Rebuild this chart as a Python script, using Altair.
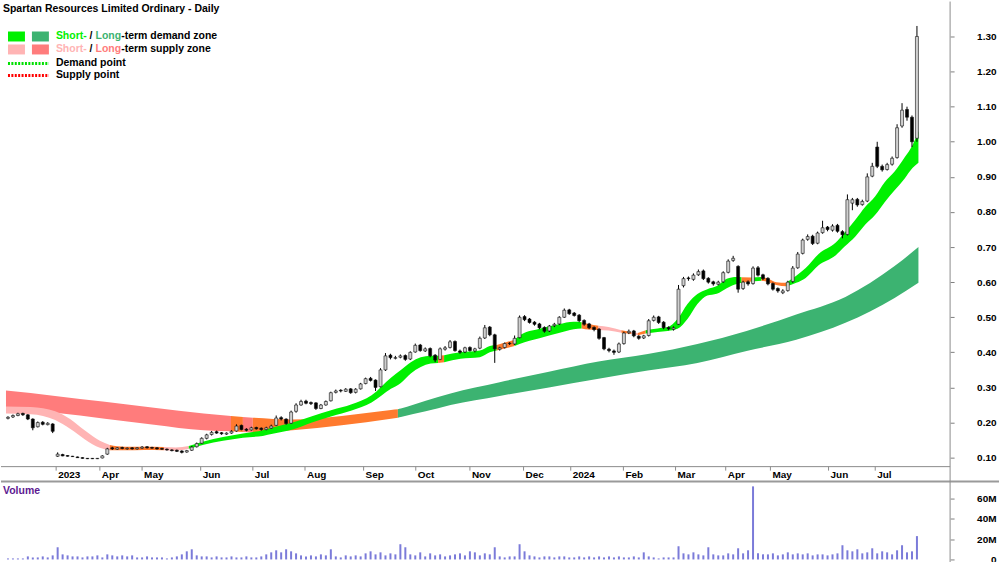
import altair as alt
import pandas as pd

FONT = "Liberation Sans, Arial, sans-serif"

# ---- candles: one candle per two trading days, index k ----
opens = [
    0.212,0.216,0.220,0.226,0.222,0.210,0.188,0.201,0.194,0.196,
    0.104,0.109,0.106,0.104,0.102,0.100,0.098,0.098,0.097,0.099,
    0.110,0.128,0.124,0.129,0.125,0.128,0.125,0.127,0.131,0.129,
    0.128,0.126,0.124,0.122,0.121,0.119,0.116,0.121,0.131,0.141,
    0.155,0.166,0.174,0.171,0.167,0.170,0.176,0.192,0.181,0.179,
    0.186,0.184,0.180,0.184,0.192,0.214,0.210,0.198,0.232,0.250,
    0.261,0.257,0.256,0.240,0.250,0.262,0.286,0.292,0.289,0.296,
    0.286,0.296,0.311,0.326,0.321,0.302,0.350,0.392,0.383,0.386,
    0.391,0.381,0.401,0.421,0.404,0.411,0.392,0.380,0.409,0.414,
    0.431,0.404,0.401,0.414,0.404,0.412,0.441,0.472,0.450,0.409,
    0.414,0.426,0.424,0.442,0.502,0.495,0.486,0.481,0.471,0.461,
    0.476,0.481,0.500,0.521,0.512,0.506,0.491,0.481,0.471,0.466,
    0.442,0.409,0.404,0.401,0.425,0.456,0.461,0.446,0.441,0.448,
    0.491,0.501,0.486,0.471,0.466,0.480,0.590,0.612,0.608,0.621,
    0.632,0.611,0.601,0.594,0.601,0.628,0.662,0.645,0.582,0.601,
    0.596,0.641,0.621,0.611,0.596,0.582,0.570,0.576,0.602,0.641,
    0.682,0.722,0.731,0.711,0.741,0.757,0.748,0.762,0.744,0.736,
    0.825,0.836,0.821,0.831,0.902,0.985,0.930,0.921,0.936,0.955,
    1.045,1.092,1.070,1.010]
highs = [
    0.218,0.223,0.228,0.228,0.224,0.212,0.203,0.204,0.201,0.198,
    0.115,0.111,0.107,0.105,0.103,0.101,0.099,0.099,0.099,0.107,
    0.128,0.131,0.130,0.131,0.129,0.130,0.130,0.133,0.133,0.131,
    0.130,0.128,0.126,0.124,0.123,0.121,0.122,0.133,0.143,0.158,
    0.168,0.176,0.177,0.173,0.172,0.178,0.195,0.194,0.184,0.188,
    0.188,0.186,0.188,0.194,0.220,0.218,0.212,0.234,0.255,0.265,
    0.265,0.260,0.258,0.253,0.263,0.288,0.294,0.295,0.298,0.298,
    0.298,0.313,0.328,0.330,0.323,0.355,0.398,0.396,0.390,0.394,
    0.394,0.403,0.425,0.424,0.414,0.414,0.395,0.414,0.418,0.435,
    0.434,0.408,0.416,0.417,0.413,0.445,0.478,0.475,0.453,0.416,
    0.428,0.429,0.448,0.505,0.506,0.498,0.489,0.484,0.474,0.478,
    0.484,0.503,0.525,0.524,0.515,0.509,0.494,0.484,0.474,0.469,
    0.444,0.413,0.408,0.428,0.459,0.465,0.464,0.449,0.450,0.495,
    0.505,0.504,0.489,0.474,0.474,0.592,0.615,0.616,0.625,0.636,
    0.636,0.614,0.604,0.604,0.631,0.665,0.675,0.648,0.604,0.605,
    0.645,0.646,0.624,0.614,0.599,0.585,0.580,0.604,0.646,0.686,
    0.724,0.736,0.735,0.744,0.775,0.760,0.765,0.766,0.748,0.850,
    0.840,0.840,0.835,0.910,0.940,1.000,0.935,0.940,0.958,1.050,
    1.110,1.100,1.075,1.330]
lows = [
    0.209,0.213,0.218,0.219,0.207,0.178,0.186,0.192,0.192,0.170,
    0.102,0.104,0.103,0.102,0.099,0.097,0.096,0.096,0.096,0.098,
    0.108,0.122,0.122,0.124,0.123,0.123,0.123,0.125,0.126,0.125,
    0.123,0.122,0.120,0.118,0.116,0.112,0.114,0.119,0.129,0.139,
    0.152,0.163,0.168,0.165,0.165,0.168,0.174,0.178,0.175,0.177,
    0.180,0.177,0.178,0.182,0.190,0.206,0.194,0.196,0.228,0.248,
    0.252,0.250,0.236,0.238,0.248,0.260,0.283,0.286,0.287,0.282,
    0.283,0.294,0.309,0.317,0.290,0.300,0.347,0.380,0.380,0.383,
    0.376,0.378,0.399,0.402,0.401,0.386,0.372,0.378,0.405,0.411,
    0.402,0.396,0.398,0.402,0.400,0.409,0.438,0.446,0.370,0.405,
    0.411,0.421,0.421,0.440,0.489,0.482,0.476,0.466,0.456,0.458,
    0.472,0.478,0.498,0.507,0.502,0.486,0.476,0.466,0.460,0.436,
    0.406,0.400,0.393,0.398,0.422,0.452,0.443,0.436,0.438,0.445,
    0.488,0.481,0.466,0.463,0.462,0.478,0.585,0.604,0.604,0.618,
    0.606,0.596,0.590,0.591,0.598,0.625,0.658,0.570,0.578,0.590,
    0.593,0.616,0.606,0.591,0.576,0.570,0.566,0.573,0.598,0.638,
    0.679,0.718,0.706,0.708,0.738,0.745,0.744,0.741,0.725,0.733,
    0.805,0.815,0.818,0.828,0.899,0.925,0.915,0.918,0.932,0.952,
    1.040,1.060,0.985,1.000]
closes = [
    0.215,0.220,0.225,0.222,0.210,0.185,0.200,0.195,0.198,0.175,
    0.110,0.105,0.104,0.103,0.100,0.098,0.097,0.097,0.098,0.105,
    0.125,0.125,0.128,0.126,0.127,0.125,0.128,0.130,0.128,0.127,
    0.125,0.124,0.122,0.120,0.118,0.115,0.120,0.130,0.140,0.155,
    0.165,0.172,0.170,0.168,0.170,0.175,0.190,0.180,0.178,0.185,
    0.182,0.180,0.185,0.190,0.213,0.210,0.197,0.230,0.250,0.260,
    0.255,0.254,0.240,0.250,0.260,0.285,0.290,0.290,0.295,0.285,
    0.295,0.310,0.325,0.320,0.300,0.350,0.390,0.385,0.385,0.390,
    0.380,0.400,0.420,0.405,0.410,0.390,0.378,0.410,0.413,0.430,
    0.405,0.400,0.413,0.405,0.410,0.440,0.470,0.450,0.410,0.413,
    0.425,0.425,0.440,0.500,0.493,0.485,0.480,0.470,0.460,0.475,
    0.480,0.500,0.520,0.510,0.505,0.490,0.480,0.470,0.465,0.440,
    0.410,0.405,0.400,0.424,0.455,0.460,0.447,0.440,0.447,0.490,
    0.500,0.485,0.470,0.467,0.470,0.580,0.610,0.610,0.620,0.630,
    0.610,0.600,0.595,0.600,0.627,0.660,0.668,0.580,0.600,0.595,
    0.640,0.620,0.610,0.595,0.580,0.575,0.575,0.600,0.640,0.680,
    0.720,0.730,0.710,0.740,0.755,0.750,0.760,0.745,0.735,0.835,
    0.835,0.820,0.830,0.900,0.930,0.930,0.920,0.935,0.953,1.040,
    1.090,1.070,1.000,1.300]
volumes_m = [
    1,1,1,1,3,2,2,3,2,4,
    12,5,4,3,3,2,3,3,4,2,
    5,4,3,4,3,4,2,2,3,2,
    2,2,1,2,3,5,8,10,4,3,
    3,2,3,2,2,3,2,2,3,2,
    2,3,5,7,9,7,10,8,6,4,
    3,4,3,5,4,10,3,2,4,3,
    4,3,6,8,5,7,4,6,5,15,
    12,5,4,7,3,6,4,5,3,4,
    5,6,4,8,7,4,6,5,12,3,
    2,3,3,15,8,4,3,2,3,3,
    2,3,3,2,2,3,2,3,2,3,
    2,3,2,3,2,2,3,2,7,3,
    2,1,2,2,2,13,6,5,7,5,
    4,12,5,4,4,6,5,11,6,9,
    72,6,5,5,6,4,5,7,5,6,
    5,6,4,5,5,4,5,6,14,9,
    8,10,6,7,11,6,8,7,5,9,
    14,7,8,23]

# ---- month ticks (in candle-index units) ----
month_pos = [9.7, 18.5, 27.0, 38.8, 49.3, 59.8, 71.6, 82.1, 93.0, 103.8,
             113.3, 123.9, 134.4, 144.5, 153.5, 165.2, 174.6]
month_lbl = ["2023", "Apr", "May", "Jun", "Jul", "Aug", "Sep", "Oct", "Nov", "Dec",
             "2024", "Feb", "Mar", "Apr", "May", "Jun", "Jul"]

# ---- short-term zone (S=supply pink, O=orange, G=demand green) ----
st_k = [-0.4, 4.6, 9.5, 12.5, 15.5, 18.5, 20.5, 23.5, 27.4, 31.4, 33.8, 36.4, 39.4,
        43.3, 47.3, 51.3, 53.3, 57.3, 61.2, 65.2, 69.2, 73.2, 77.1, 79.1, 81.1, 85.1,
        86.6, 87.8, 91.1, 95.0, 97.0, 98.4, 102.0, 103.0, 107.0, 110.9, 113.9, 115.5,
        116.9, 118.9, 120.9, 123.5, 125.5, 126.8, 128.4, 130.8, 132.8, 134.8, 136.8,
        138.8, 140.8, 142.7, 144.7, 146.7, 147.7, 149.7, 151.7, 153.1, 154.7, 156.7,
        158.7, 160.6, 163.2, 166.6, 168.5, 170.6, 172.6, 174.6, 176.5, 178.5, 180.5,
        182.1, 183.3]
st_lo = [0.226, 0.224, 0.207, 0.182, 0.152, 0.128, 0.121, 0.121, 0.122, 0.121, 0.120,
         0.125, 0.137, 0.148, 0.157, 0.162, 0.168, 0.180, 0.200, 0.218, 0.234, 0.257,
         0.296, 0.313, 0.340, 0.368, 0.370, 0.372, 0.382, 0.386, 0.400, 0.405, 0.418,
         0.424, 0.440, 0.455, 0.466, 0.468, 0.465, 0.464, 0.462, 0.456, 0.452, 0.449,
         0.454, 0.458, 0.461, 0.467, 0.495, 0.538, 0.562, 0.567, 0.583, 0.595, 0.598,
         0.602, 0.604, 0.600, 0.592, 0.588, 0.598, 0.612, 0.648, 0.676, 0.702, 0.730,
         0.764, 0.792, 0.828, 0.862, 0.895, 0.925, 0.940]
st_hi = [0.246, 0.244, 0.232, 0.210, 0.177, 0.148, 0.136, 0.131, 0.131, 0.130, 0.129,
         0.133, 0.146, 0.159, 0.169, 0.178, 0.186, 0.200, 0.218, 0.236, 0.252, 0.278,
         0.328, 0.350, 0.372, 0.390, 0.390, 0.392, 0.400, 0.405, 0.418, 0.421, 0.436,
         0.448, 0.467, 0.480, 0.487, 0.486, 0.481, 0.476, 0.472, 0.463, 0.458, 0.455,
         0.463, 0.468, 0.472, 0.495, 0.538, 0.566, 0.580, 0.589, 0.610, 0.615, 0.614,
         0.613, 0.615, 0.610, 0.600, 0.598, 0.618, 0.640, 0.680, 0.712, 0.742, 0.778,
         0.815, 0.845, 0.885, 0.915, 0.955, 0.990, 1.030]
st_state = ["S", "S", "S", "S", "S", "S", "O", "O", "O", "S", "S", "G", "G",
            "G", "G", "G", "G", "G", "G", "G", "G", "G", "G", "G", "G", "G",
            "O", "G", "G", "G", "G", "O", "G", "G", "G", "G", "G", "O",
            "O", "S", "S", "O", "S", "O", "G", "G", "G", "G", "G",
            "G", "G", "G", "G", "G", "O", "G", "O", "O", "O", "G",
            "G", "G", "G", "G", "G", "G", "G", "G", "G", "G", "G",
            "G", "G"]

# ---- long-term zone (L=supply salmon, O=orange, D=demand dark green) ----
lt_k = [-0.4, 9.5, 19.5, 29.4, 39.4, 44.9, 47.3, 49.3, 57.3, 67.2, 77.1, 78.5,
        79.1, 84.1, 89.1, 99.0, 108.9, 118.9, 128.8, 138.8, 148.7, 158.7, 168.6,
        178.5, 183.3]
lt_lo = [0.240, 0.228, 0.211, 0.194, 0.178, 0.175, 0.173, 0.172, 0.178, 0.192, 0.211,
         0.214, 0.216, 0.232, 0.250, 0.276, 0.300, 0.325, 0.348, 0.370, 0.404, 0.436,
         0.484, 0.555, 0.598]
lt_hi = [0.291, 0.276, 0.259, 0.242, 0.226, 0.219, 0.216, 0.214, 0.209, 0.219, 0.236,
         0.238, 0.240, 0.262, 0.283, 0.315, 0.345, 0.374, 0.395, 0.424, 0.461, 0.508,
         0.558, 0.646, 0.700]
lt_state = ["L", "L", "L", "L", "L", "O", "L", "O", "O", "O", "O", "D",
            "D", "D", "D", "D", "D", "D", "D", "D", "D", "D", "D",
            "D", "D"]

ZONE_DOMAIN = ["S", "O", "G", "L", "D"]
ZONE_RANGE = ["#FFB4B4", "#FF7A2E", "#00F000", "#FF7C7C", "#3CB371"]


def runs(ks, los, his, states, tag):
    rows = []
    n = len(ks)
    i = 0
    seg = 0
    while i < n - 1:
        st = states[i]
        j = i
        while j < n - 1 and states[j] == st:
            j += 1
        for t in range(i, j + 1):
            rows.append({"k": ks[t], "lo": los[t], "hi": his[t], "state": st,
                         "seg": f"{tag}{seg}"})
        seg += 1
        i = j
    return pd.DataFrame(rows)


candles = pd.DataFrame({"k": list(range(len(closes))), "o": opens, "h": highs,
                        "l": lows, "c": closes, "v": volumes_m})
candles["dir"] = ["up" if c >= o else "down" for o, c in zip(opens, closes)]
months = pd.DataFrame({"k": month_pos, "lbl": month_lbl})
st_df = runs(st_k, st_lo, st_hi, st_state, "s")
lt_df = runs(lt_k, lt_lo, lt_hi, lt_state, "l")
one = pd.DataFrame({"a": [0]})

xs = alt.Scale(domain=[-0.4, 188.67], nice=False, zero=False)
ys = alt.Scale(domain=[0.0744, 1.3995], range=[466, 0], nice=False, zero=False)
vs = alt.Scale(domain=[0, 76.7], range=[559, 481], nice=False, zero=False)

AX = dict(labelFont=FONT, labelFontSize=10, labelFontWeight="bold", labelColor="black",
          labelAlign="right", labelBaseline="middle", labelPadding=42, tickSize=4,
          tickColor="#808080", domain=False, grid=False, title=None, labelOverlap=False)
price_axis = alt.Axis(orient="right", values=[0.1, 0.2, 0.3, 0.4, 0.5, 0.6, 0.7, 0.8,
                                              0.9, 1.0, 1.1, 1.2, 1.3],
                      format=".2f", **AX)
vol_axis = alt.Axis(orient="right", values=[0, 20, 40, 60],
                    labelExpr="datum.value == 0 ? '0' : datum.value + 'M'", **AX)

X = alt.X("k:Q", scale=xs, axis=None)
zone_color = alt.Color("state:N", scale=alt.Scale(domain=ZONE_DOMAIN, range=ZONE_RANGE),
                       legend=None)

lt_area = alt.Chart(lt_df).mark_area(interpolate="monotone", opacity=1).encode(
    x=X, y=alt.Y("lo:Q", scale=ys, axis=price_axis), y2="hi:Q", color=zone_color,
    detail="seg:N")
st_area = alt.Chart(st_df).mark_area(interpolate="monotone", opacity=1).encode(
    x=X, y=alt.Y("lo:Q", scale=ys, axis=price_axis), y2="hi:Q", color=zone_color,
    detail="seg:N")
wicks = alt.Chart(candles).mark_rule(color="black", strokeWidth=1).encode(
    x=X, y=alt.Y("l:Q", scale=ys, axis=price_axis), y2="h:Q")
bodies = alt.Chart(candles).mark_bar(size=3, stroke="#111111", strokeWidth=0.6).encode(
    x=X, y=alt.Y("o:Q", scale=ys, axis=price_axis), y2="c:Q",
    fill=alt.Fill("dir:N", scale=alt.Scale(domain=["up", "down"],
                                           range=["#cfcfcf", "#000000"]), legend=None))
price = alt.layer(lt_area, st_area, wicks, bodies)

vol = alt.Chart(candles).mark_bar(size=2, color="#7B7BD9").encode(
    x=X, y=alt.Y("v:Q", scale=vs, axis=vol_axis))


def txt(s, x, y, color, size=10.5):
    return alt.Chart(one).mark_text(align="left", baseline="middle", font=FONT,
                                    fontSize=size, fontWeight="bold", color=color).encode(
        x=alt.value(x), y=alt.value(y), text=alt.value(s))


def box(x1, x2, y1, y2, color):
    return alt.Chart(one).mark_rect(color=color).encode(
        x=alt.value(x1), x2=alt.value(x2), y=alt.value(y1), y2=alt.value(y2))


def hline(x1, x2, y, color, w=1, dash=None):
    kw = dict(color=color, strokeWidth=w)
    if dash:
        kw["strokeDash"] = dash
    return alt.Chart(one).mark_rule(**kw).encode(
        x=alt.value(x1), x2=alt.value(x2), y=alt.value(y))


frame = [
    hline(0, 951, 466, "#8c8c8c", 1),
    hline(0, 1000, 481, "#9a9a9a", 2),
    alt.Chart(one).mark_rule(color="#8c8c8c", strokeWidth=1).encode(
        x=alt.value(951), y=alt.value(0), y2=alt.value(562)),
]

month_ticks = alt.Chart(months).mark_rule(color="#8c8c8c").encode(
    x=X, y=alt.value(466), y2=alt.value(470))
month_text = alt.Chart(months).mark_text(align="left", baseline="middle", dx=2,
                                         font=FONT, fontSize=10, fontWeight="bold",
                                         color="black").encode(
    x=X, y=alt.value(474), text="lbl:N")

# legend pieces (positions follow the bold 10.5px glyph advances)
legend = [
    txt("Spartan Resources Limited Ordinary - Daily", 2, 7, "black"),
    box(7, 24, 30, 40, "#00F000"), box(31, 48, 30, 40, "#3CB371"),
    box(7, 24, 43, 53, "#FFB4B4"), box(31, 48, 43, 53, "#FF7C7C"),
    hline(7, 48, 62, "#00E000", 3, [2, 1.4]),
    hline(7, 48, 74, "#FF0000", 3, [2, 1.4]),
    txt("Short-", 55, 35, "#00F000"),
    txt("/", 88.8, 35, "black"),
    txt("Long", 94.7, 35, "#3CB371"),
    txt("-term demand zone", 120.4, 35, "black"),
    txt("Short-", 55, 48, "#FFB4B4"),
    txt("/", 88.8, 48, "black"),
    txt("Long", 94.7, 48, "#FF7C7C"),
    txt("-term supply zone", 120.4, 48, "black"),
    txt("Demand point", 55, 62, "black"),
    txt("Supply point", 55, 74, "black"),
    txt("Volume", 2, 490, "#5E1A91"),
]

chart = alt.layer(price, vol, *frame, month_ticks, month_text, *legend).resolve_scale(
    y="independent").properties(width=951, height=562, padding=0,
                                background="white").configure_view(stroke=None)

chart.save("out.html", embed_options={"renderer": "svg", "actions": False})
